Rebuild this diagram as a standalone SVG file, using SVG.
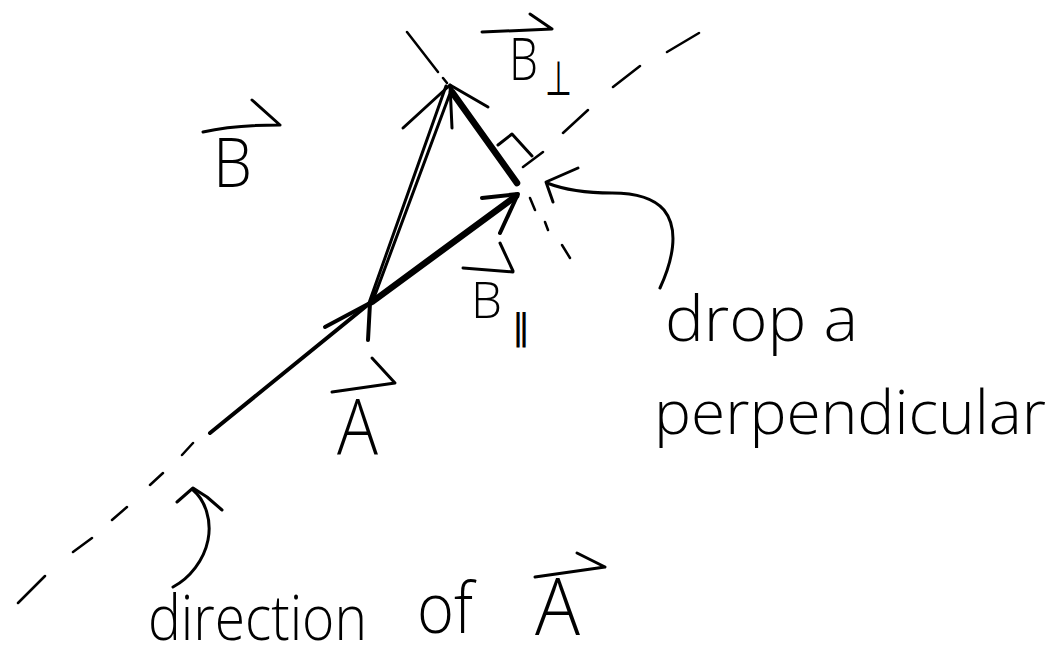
<svg xmlns="http://www.w3.org/2000/svg" width="1053" height="656" viewBox="0 0 1053 656">
<style>
.ink{stroke:#000;fill:none;stroke-linecap:round;stroke-linejoin:round}
.dash{stroke-width:2.5}
.s3{stroke-width:3}
.s4{stroke-width:4}
.s6{stroke-width:6.5}
.lbl{font-family:"Open Sans","Liberation Sans",Arial,sans-serif;font-weight:300;fill:#000}
.sym{font-family:"DejaVu Sans","Liberation Sans",sans-serif;fill:#000}
</style>
<rect width="1053" height="656" fill="#fff"/>
<g id="connectors">
  <g id="direction-line">
    <path class="ink dash" d="M18,603L45,576M73,552L92,538M112,520L127,507M150,485L163,473M182,455L193,443M523,167L543,152M563,133L588,110M613,87L640,66M667,52L699,33"/>
  </g>
  <g id="perpendicular-line">
    <path class="ink dash" d="M407,32L438,72M443,78L447,83M530,198L535,210M545,222L548,230M562,245L570,258"/>
  </g>
  <g id="right-angle">
    <path class="ink s3" d="M498,145L512,134L532,156"/>
  </g>
  <g id="pointer-perpendicular">
    <path class="ink s3" d="M660,288C672,262 680,230 664,210C652,196 630,193 612,193C590,193 565,190 547,183"/>
    <path class="ink s3" d="M578,168L546,182L553,202"/>
  </g>
  <g id="pointer-direction">
    <path class="ink s3" d="M193,490C205,500 212,520 208,540C204,560 190,578 173,587"/>
    <path class="ink s3" d="M177,502L193,488L207,497L222,510"/>
  </g>
</g>
<g id="vector-A">
  <path class="ink s4" d="M210,433L370,303"/>
  <path class="ink s4" d="M325,327L370,303L368,340"/>
</g>
<g id="vector-B">
  <path class="ink s3" d="M369,303L446,86M372,303L452,88"/>
  <path class="ink s3" d="M403,128L450,85L452,128"/>
</g>
<g id="vector-B-perp">
  <path class="ink s6" d="M452,92L517,183"/>
  <path class="ink s3" d="M450,85L488,107"/>
</g>
<g id="vector-B-par">
  <path class="ink s6" d="M372,302L516,196"/>
  <path class="ink s4" d="M482,198L518,194L500,233"/>
</g>
<g id="label-B">
  <text class="lbl" x="213" y="187" font-size="68" textLength="39" lengthAdjust="spacingAndGlyphs">B</text>
  <path class="ink s3" d="M203,132C225,127 255,125 280,125M252,100L280,125"/>
</g>
<g id="label-B-perp">
  <text class="lbl" x="509" y="80" font-size="58" textLength="29" lengthAdjust="spacingAndGlyphs">B</text>
  <text class="sym" x="545" y="95" font-size="48" textLength="27" lengthAdjust="spacingAndGlyphs">⊥</text>
  <path class="ink s3" d="M482,32L552,29M530,14L552,29"/>
</g>
<g id="label-B-par">
  <text class="lbl" x="471" y="318" font-size="50" textLength="31" lengthAdjust="spacingAndGlyphs">B</text>
  <text class="sym" x="511" y="340" font-size="36" textLength="20" lengthAdjust="spacingAndGlyphs">∥</text>
  <path class="ink s3" d="M463,268L513,272M500,243L513,271"/>
</g>
<g id="label-A">
  <text class="lbl" x="337" y="455" font-size="78" textLength="41" lengthAdjust="spacingAndGlyphs">A</text>
  <path class="ink s3" d="M332,392L395,383M372,358L395,383"/>
</g>
<g id="label-drop">
  <text class="lbl" x="665" y="341" font-size="62" textLength="193" lengthAdjust="spacingAndGlyphs">drop a</text>
  <text class="lbl" x="654" y="434" font-size="60" textLength="392" lengthAdjust="spacingAndGlyphs">perpendicular</text>
</g>
<g id="label-direction">
  <text class="lbl" x="148" y="640" font-size="62" textLength="219" lengthAdjust="spacingAndGlyphs">direction</text>
  <text class="lbl" x="417" y="633" font-size="70" textLength="56" lengthAdjust="spacingAndGlyphs">of</text>
  <text class="lbl" x="535" y="635" font-size="80" textLength="45" lengthAdjust="spacingAndGlyphs">A</text>
  <path class="ink s3" d="M535,577L605,567M577,553L605,567"/>
</g>
</svg>
